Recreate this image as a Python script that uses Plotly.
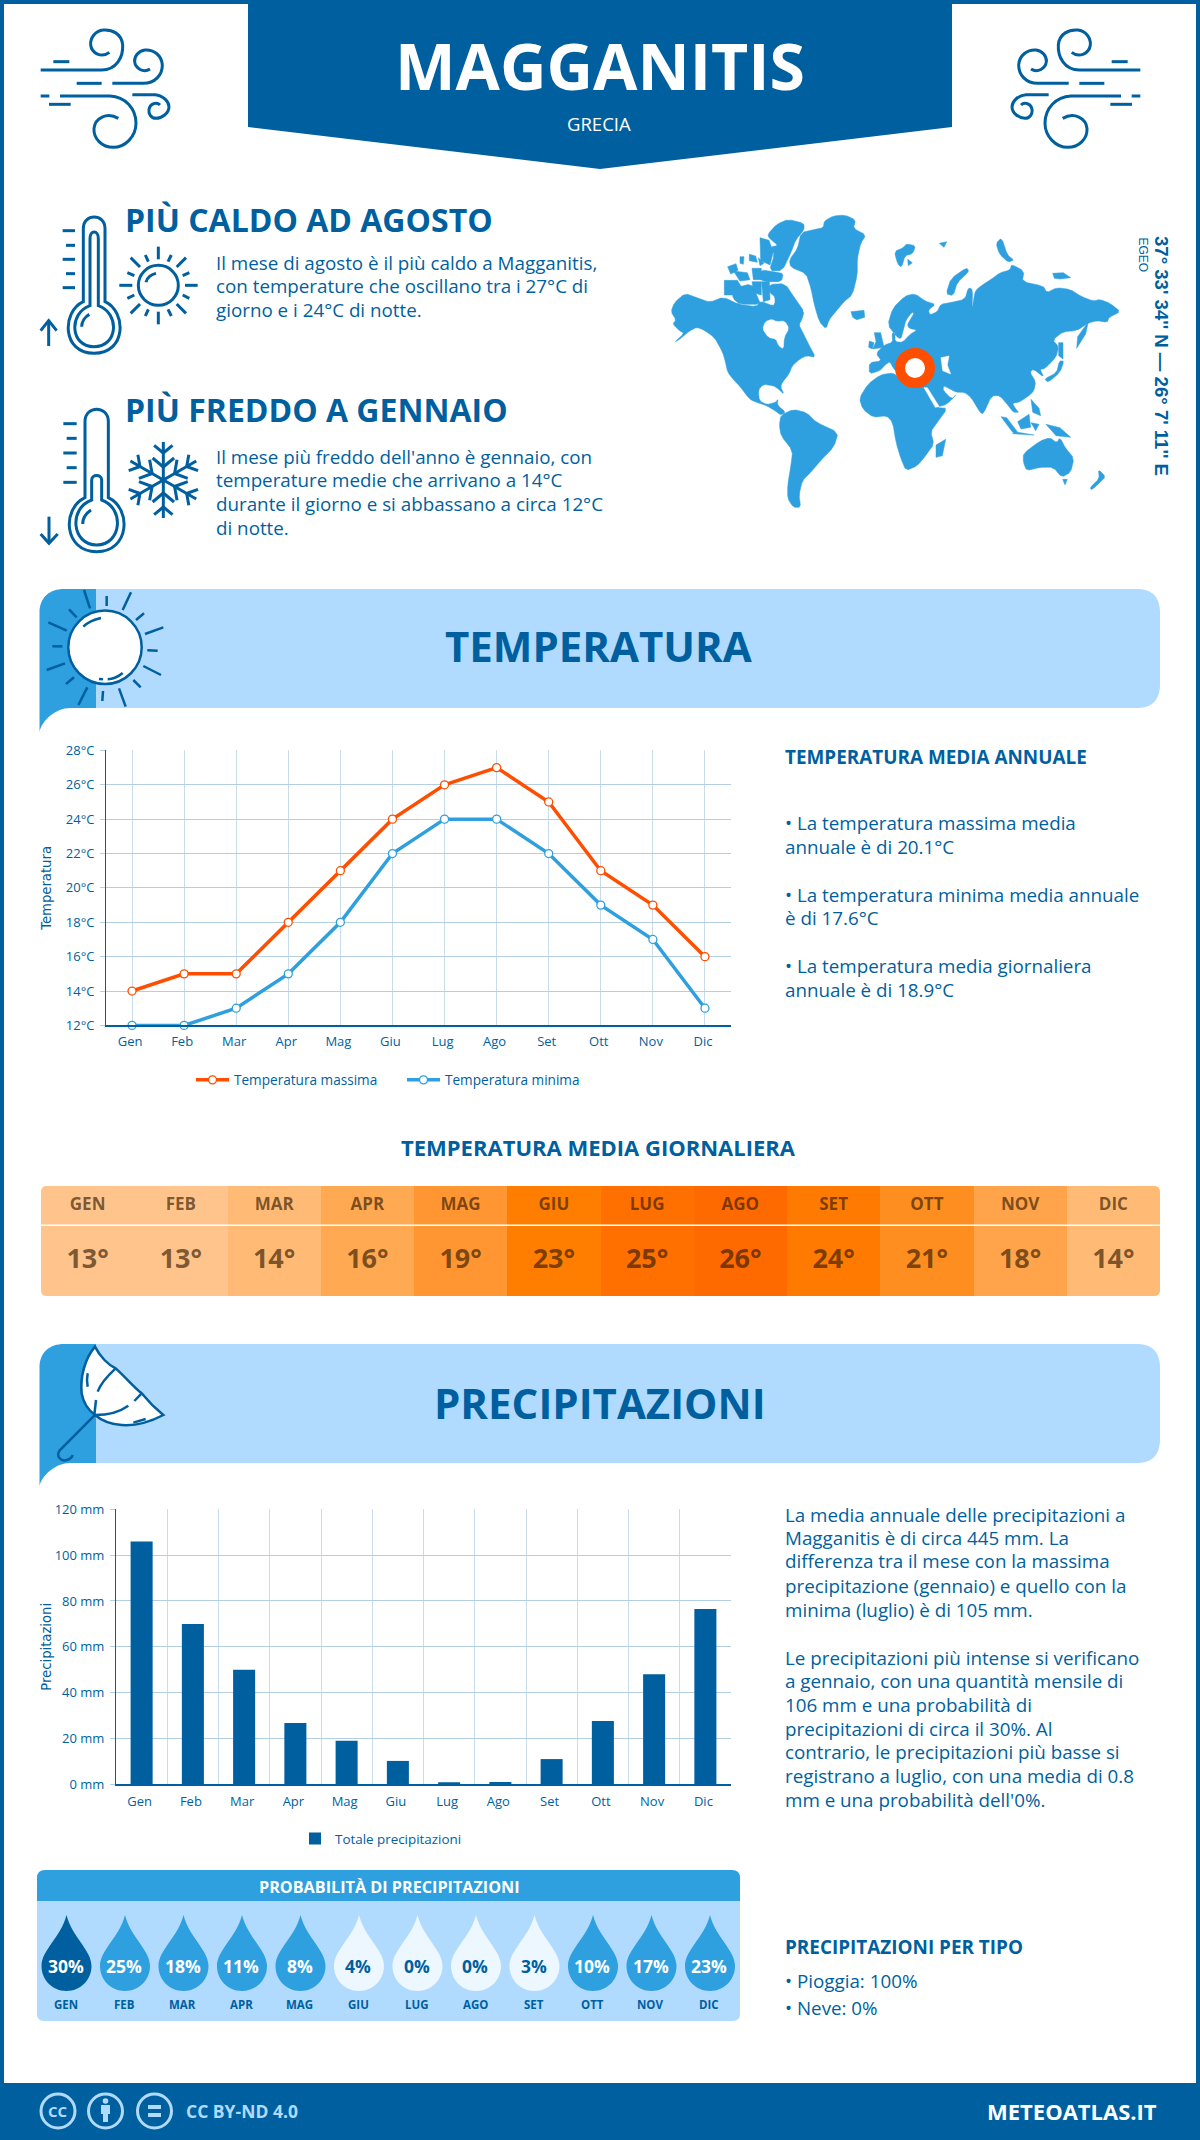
import math
import plotly.graph_objects as go

W, H = 1200, 2140
BLUE = "#005f9e"
MID = "#2e9fdf"
LIGHT = "#b0dbff"
PALE = "#edf7ff"
ORANGE = "#ff4e00"
FONT = "Open Sans"

# ---- data ----
MONTHS = ["Gen", "Feb", "Mar", "Apr", "Mag", "Giu", "Lug", "Ago", "Set", "Ott", "Nov", "Dic"]
MONTHS_UP = ["GEN", "FEB", "MAR", "APR", "MAG", "GIU", "LUG", "AGO", "SET", "OTT", "NOV", "DIC"]
TEMP_MAX = [14, 15, 15, 18, 21, 24, 26, 27, 25, 21, 19, 16]
TEMP_MIN = [12, 12, 13, 15, 18, 22, 24, 24, 22, 19, 17, 13]
TEMP_TICKS = [12, 14, 16, 18, 20, 22, 24, 26, 28]
TEMP_LABELS = ["12°C", "14°C", "16°C", "18°C", "20°C", "22°C", "24°C", "26°C", "28°C"]
TEMP_DAILY = [13, 13, 14, 16, 19, 23, 25, 26, 24, 21, 18, 14]
RAIN = [106, 70, 50, 26.8, 19, 10.2, 0.8, 1, 11, 27.6, 48, 76.5]
RAIN_TICKS = [0, 20, 40, 60, 80, 100, 120]
RAIN_LABELS = ["0 mm", "20 mm", "40 mm", "60 mm", "80 mm", "100 mm", "120 mm"]
RAIN_PROB = [30, 25, 18, 11, 8, 4, 0, 0, 3, 10, 17, 23]

HEAT_STOPS = [(13, "#ffc48b"), (14, "#ffba75"), (16, "#ffa952"), (18, "#ffa44a"), (19, "#ff9632"),
              (21, "#ff8e20"), (23, "#ff7e00"), (24, "#ff7a00"), (25, "#ff7000"), (26, "#ff6a00")]


def fx(x):
    return x / W


def fy(y):
    return 1 - y / H


def path(cmds):
    """cmds: list of (letter, x1, y1, x2, y2...) in page pixels -> paper path string"""
    out = []
    for c in cmds:
        letter = c[0]
        nums = c[1:]
        pts = []
        for i in range(0, len(nums), 2):
            pts.append(f"{fx(nums[i]):.5f},{fy(nums[i + 1]):.5f}")
        out.append(letter + " ".join(pts))
    return " ".join(out)


shapes = []
notes = []


def add_path(cmds, fill=None, line=None, width=0, layer="below"):
    s = dict(type="path", xref="paper", yref="paper", path=path(cmds), layer=layer,
             line=dict(color=line or "rgba(0,0,0,0)", width=width))
    if fill:
        s["fillcolor"] = fill
    shapes.append(s)


def parse(d, tx, ty):
    """parse 'M x,y L x,y C ...' mini paths through a transform"""
    cmds = []
    for tok in d.replace(",", " ").split():
        if tok.isalpha():
            cmds.append([tok])
        else:
            cmds[-1].append(float(tok))
    res = []
    for c in cmds:
        row = [c[0]]
        for i in range(1, len(c), 2):
            row += [tx(c[i]), ty(c[i + 1])]
        res.append(tuple(row))
    return res


def stroke(d, tx, ty, width=3, color=BLUE, fill=None, layer="below"):
    add_path(parse(d, tx, ty), fill=fill, line=color, width=width, layer=layer)


def chaikin(pts):
    out = []
    n = len(pts)
    for i in range(n):
        a, b = pts[i], pts[(i + 1) % n]
        out.append((0.8 * a[0] + 0.2 * b[0], 0.8 * a[1] + 0.2 * b[1]))
        out.append((0.2 * a[0] + 0.8 * b[0], 0.2 * a[1] + 0.8 * b[1]))
    return out


def poly(pts, tx, ty, fill=MID, layer="below"):
    if len(pts) >= 6:
        pts = chaikin(pts)
    cmds = [("M", tx(pts[0][0]), ty(pts[0][1]))]
    cmds += [("L", tx(a), ty(b)) for a, b in pts[1:]]
    cmds.append(("Z",))
    add_path(cmds, fill=fill, line=fill, width=0.5, layer=layer)


def circle(cx, cy, r, fill=None, line=None, width=0, layer="below"):
    shapes.append(dict(type="circle", xref="paper", yref="paper", layer=layer,
                       x0=fx(cx - r), x1=fx(cx + r), y0=fy(cy + r), y1=fy(cy - r),
                       fillcolor=fill or "rgba(0,0,0,0)",
                       line=dict(color=line or "rgba(0,0,0,0)", width=width)))


def text(x, y, s, size, color=BLUE, bold=False, anchor="left", family=FONT, angle=0, ya="middle"):
    notes.append(dict(xref="paper", yref="paper", x=fx(x), y=fy(y), text=s, showarrow=False,
                      xanchor=anchor, yanchor=ya, textangle=angle, borderpad=0,
                      font=dict(family=family, size=size, color=color,
                                weight=700 if bold else 400)))


# ---- frame and header ----
add_path([("M", 0, 0), ("L", 1200, 0), ("L", 1200, 4), ("L", 0, 4), ("Z",)], fill=BLUE)
add_path([("M", 0, 0), ("L", 4, 0), ("L", 4, 2140), ("L", 0, 2140), ("Z",)], fill=BLUE)
add_path([("M", 1196, 0), ("L", 1200, 0), ("L", 1200, 2140), ("L", 1196, 2140), ("Z",)], fill=BLUE)
add_path([("M", 248, 0), ("L", 952, 0), ("L", 952, 127), ("L", 600, 169), ("L", 248, 127), ("Z",)], fill=BLUE)
add_path([("M", 0, 2083), ("L", 1200, 2083), ("L", 1200, 2140), ("L", 0, 2140), ("Z",)], fill=BLUE)
text(600, 65, "MAGGANITIS", 64.3, "white", True, "center")
text(598.5, 123, "GRECIA", 18.5, "white", False, "center")

# ---- wind icons ----
WIND = [
    "M 32,150 L 215,150 C 260,150 280,110 278,75 C 275,40 245,28 220,30 C 195,32 180,55 182,75 C 185,100 215,115 238,97",
    "M 70,125 L 118,125",
    "M 140,190 L 215,190",
    "M 247,190 L 340,190 C 375,190 397,165 397,135 C 395,105 370,88 345,90 C 325,92 312,110 314,125 C 316,145 340,160 360,147",
    "M 32,228 L 58,228",
    "M 90,228 L 240,228 C 285,230 318,265 318,310 C 318,350 285,382 250,382 C 215,382 190,355 192,325 C 195,295 230,275 265,295",
    "M 57,253 L 122,253",
    "M 307,224 L 375,224 C 400,226 417,245 417,260 C 417,280 395,295 378,295 C 362,295 355,280 357,268 C 360,250 380,245 390,255",
]
for d in WIND:
    stroke(d, lambda v: 30 + v / 3, lambda v: 20 + v / 3)
    stroke(d, lambda v: 1181 - (30 + v / 3), lambda v: 20 + v / 3)

# ---- hot thermometer + sun ----
tx1, ty1 = (lambda v: 30 + v / 3), (lambda v: 205 + v / 3)
HOT = [
    "M 160,290 L 160,70 C 160,25 225,25 225,70 L 225,290 C 290,320 290,445 192,445 C 95,445 95,320 160,290 Z",
    "M 180,302 L 180,100 C 180,75 205,75 205,100 L 205,302 C 270,325 265,425 192,425 C 120,425 115,325 180,302 Z",
    "M 155,365 C 155,350 165,335 178,328",
    "M 98,77 L 135,77", "M 108,121 L 135,121", "M 98,163 L 135,163", "M 108,206 L 135,206", "M 98,248 L 135,248",
    "M 56,423 L 56,347", "M 32,377 L 56,347 L 80,377",
    "M 268,241 L 307,241", "M 465,241 L 503,241", "M 385,125 L 385,163", "M 385,320 L 385,358",
    "M 302,158 L 330,186", "M 440,186 L 468,158", "M 302,325 L 330,297", "M 440,297 L 468,325",
    "M 346,150 L 355,170", "M 424,150 L 414,170", "M 292,203 L 313,212", "M 478,203 L 458,212",
    "M 292,280 L 313,270", "M 478,280 L 458,270", "M 346,333 L 355,313", "M 424,333 L 414,313",
    "M 348,232 C 350,218 365,208 378,205",
]
for d in HOT:
    stroke(d, tx1, ty1)
circle(tx1(385), ty1(241), 20, line=BLUE, width=3)

# ---- cold thermometer + snowflake ----
tx2, ty2 = (lambda v: 30 + v / 3), (lambda v: 400 + v / 3)
COLD = [
    "M 165,293 L 165,65 C 165,15 235,15 235,65 L 235,293 C 305,325 300,455 200,455 C 100,455 95,325 165,293 Z",
    "M 185,300 L 185,240 C 185,222 215,222 215,240 L 215,300 C 285,325 275,435 200,435 C 125,435 115,325 185,300 Z",
    "M 158,372 C 158,355 168,340 183,330",
    "M 100,71 L 140,71", "M 110,115 L 140,115", "M 100,159 L 140,159", "M 110,203 L 140,203", "M 100,247 L 140,247",
    "M 57,350 L 57,430", "M 32,402 L 57,430 L 83,402",
]
for d in COLD:
    stroke(d, tx2, ty2)
scx, scy = tx2(400), ty2(240)
for k in range(6):
    a = math.radians(90 + 60 * k)
    ux, uy = math.cos(a), math.sin(a)
    add_path([("M", scx, scy), ("L", scx + 38 * ux, scy + 38 * uy)], line=BLUE, width=3)
    for dist, blen in ((13, 14), (27, 12)):
        px, py = scx + dist * ux, scy + dist * uy
        for sgn in (-1, 1):
            b = a + sgn * math.radians(50)
            add_path([("M", px, py), ("L", px + blen * math.cos(b), py + blen * math.sin(b))], line=BLUE, width=3)

# ---- highlight texts ----
text(124, 219, "PIÙ CALDO AD AGOSTO", 32, BLUE, True)
for yy, s in zip([263, 286, 310], ["Il mese di agosto è il più caldo a Magganitis,",
                                   "con temperature che oscillano tra i 27°C di",
                                   "giorno e i 24°C di notte."]):
    text(214.5, yy, s, 18.8, BLUE)
text(124, 410, "PIÙ FREDDO A GENNAIO", 32, BLUE, True)
for yy, s in zip([457, 480, 504, 528], ["Il mese più freddo dell'anno è gennaio, con",
                                        "temperature medie che arrivano a 14°C",
                                        "durante il giorno e si abbassano a circa 12°C",
                                        "di notte."]):
    text(214.5, yy, s, 18.8, BLUE)

# ---- world map (outline) ----
mx6, my = (lambda v: 660 + v / 3), (lambda v: 205 + v / 3)
mx7 = lambda v: 900 + v / 3
MAP_WEST = [
    [(520,33),(555,30),(587,45),(580,70),(618,90),(602,115),(592,160),(592,210),(577,270),(552,290),(527,320),(507,345),(498,372),(478,350),(463,300),(453,250),(438,205),(392,187),(388,165),(413,130),(423,83),(465,73),(490,68),(493,48)],
    [(33,320),(43,293),(75,265),(110,278),(150,292),(190,276),(235,298),(290,305),(300,288),(340,303),(345,293),(385,298),(432,320),(427,340),(417,360),(427,380),(447,420),(467,457),(440,452),(420,462),(397,482),(387,507),(367,532),(362,545),(372,568),(355,552),(340,542),(310,538),(295,555),(298,587),(320,599),(347,592),(354,582),(352,600),(377,622),(362,630),(345,617),(320,602),(290,592),(268,582),(238,542),(223,527),(203,502),(196,470),(188,442),(163,397),(130,374),(110,367),(90,377),(60,402),(43,412),(73,385),(58,377),(38,357),(48,345)],
    [(323,88),(350,58),(385,43),(432,55),(432,75),(407,105),(392,145),(367,197),(328,197),(343,150),(333,125),(355,122),(328,100)],
    [(328,238),(375,236),(405,280),(434,322),(412,337),(385,322),(345,302),(345,275),(328,262)],
    [(193,226),(232,226),(247,250),(222,270),(193,270)],
    [(220,250),(275,236),(290,270),(302,298),(240,298),(218,280)],
    [(203,185),(228,176),(234,196),(212,207)],
    [(220,198),(262,203),(270,224),(240,228)],
    [(276,190),(304,190),(304,224),(280,224)],
    [(300,98),(327,106),(340,140),(330,180),(302,167)],
    [(302,194),(345,201),(370,206),(364,230),(318,230),(300,224)],
    [(276,230),(304,230),(304,270),(282,264)],
    [(305,230),(328,230),(330,284),(310,290)],
    [(268,148),(287,153),(292,172),(268,167)],
    [(295,158),(312,175),(300,182)],
    [(240,155),(252,155),(250,178),(240,175)],
    [(573,320),(612,316),(614,337),(590,344),(578,337)],
    [(703,140),(730,128),(740,116),(767,123),(757,147),(735,152),(725,187),(713,177)],
    [(838,115),(860,110),(852,127)],
    [(743,163),(757,173),(745,182)],
    [(363,630),(400,613),(440,623),(470,653),(535,682),(522,725),(482,767),(452,802),(427,827),(417,870),(422,907),(400,907),(383,880),(383,840),(393,780),(398,737),(363,692),(358,660)],
    [(598,580),(623,538),(660,510),(700,503),(720,523),(790,543),(832,608),(862,610),(832,652),(812,680),(822,717),(797,752),(772,782),(738,797),(723,762),(708,712),(698,652),(680,632),(640,637),(608,612)],
    [(857,703),(847,752),(828,757),(828,720)],
    [(643,383),(662,383),(672,427),(638,432),(648,410)],
    [(628,408),(642,413),(637,432),(626,427)],
]
MAP_EAST = [
    [(-92,507),(-92,473),(-55,468),(-72,445),(-47,420),(-22,412),(-24,385),(-15,382),(-15,410),(8,412),(30,388),(52,375),(28,370),(22,360),(30,345),(42,325),(36,322),(18,345),(10,375),(3,402),(-10,395),(-37,360),(-22,310),(15,273),(45,266),(75,288),(107,298),(85,315),(90,330),(112,320),(122,298),(150,293),(195,283),(205,248),(218,253),(216,315),(224,265),(230,253),(250,238),(275,222),(300,203),(330,195),(335,178),(372,198),(367,230),(430,243),(440,263),(470,248),(510,253),(545,275),(580,288),(600,283),(630,295),(662,320),(627,337),(622,352),(590,347),(565,354),(530,377),(490,380),(458,405),(476,425),(468,457),(433,492),(420,492),(432,517),(400,492),(390,502),(407,530),(402,557),(387,572),(357,592),(337,594),(347,612),(357,622),(340,622),(325,602),(300,572),(275,572),(250,627),(240,622),(213,577),(193,562),(170,562),(150,552),(130,542),(130,557),(155,582),(170,568),(142,597),(110,607),(85,567),(70,547),(40,535),(0,510),(-20,490),(-30,470),(-45,480),(-60,497)],
    [(138,267),(153,220),(200,188),(207,200),(172,232),(160,272)],
    [(288,115),(305,98),(322,150),(342,165),(325,172),(298,147)],
    [(458,205),(490,203),(512,218),(480,222),(463,220)],
    [(530,430),(533,395),(565,350),(557,387)],
    [(433,522),(470,503),(478,468),(492,468),(480,502),(445,532)],
    [(476,413),(489,413),(489,462),(476,452)],
    [(303,635),(320,638),(352,680),(338,682)],
    [(343,680),(402,690),(338,686)],
    [(353,650),(387,628),(392,667),(363,672)],
    [(393,653),(417,658),(407,677)],
    [(438,658),(480,668),(512,697),(468,692)],
    [(393,583),(417,610),(422,632),(398,622)],
    [(370,745),(420,708),(450,698),(470,713),(480,698),(497,730),(522,760),(512,802),(485,817),(460,787),(420,787),(380,797),(370,772)],
    [(595,793),(617,815),(600,832),(575,855),(570,848),(598,820)],
    [(488,823),(502,823),(495,840)],
]
MAP_WATER_WEST = [
    [(308,372),(316,350),(335,343),(350,350),(374,348),(387,370),(372,397),(370,432),(356,422),(348,402),(325,397)],
]
MAP_WATER_EAST = [
    [(123,458),(147,453),(142,480),(152,507),(128,497)],
    [(72,548),(82,548),(118,605),(106,607)],
]
for p in MAP_WEST:
    poly(p, mx6, my)
for p in MAP_EAST:
    poly(p, mx7, my)
for p in MAP_WATER_WEST:
    poly(p, mx6, my, "white")
for p in MAP_WATER_EAST:
    poly(p, mx7, my, "white")
circle(915, 368, 15, fill="white", line=ORANGE, width=10)
text(1162, 235, "37° 33' 34'' N — 26° 7' 11'' E", 18.6, BLUE, True, "center", "Liberation Sans", 90, "top")
text(1142, 236, "EGEO", 12, BLUE, False, "center", "Liberation Sans", 90, "top")


# ---- banners ----
def banner(y0, y1, tail):
    add_path([("M", 96, y0), ("L", 1137, y0), ("C", 1152, y0, 1160, y0 + 8, 1160, y0 + 24),
              ("L", 1160, y1 - 24), ("C", 1160, y1 - 8, 1152, y1, 1137, y1), ("L", 96, y1), ("Z",)], fill=LIGHT)
    add_path([("M", 39.5, tail), ("L", 39.5, y0 + 24), ("C", 39.5, y0 + 8, 50, y0, 64, y0), ("L", 96, y0),
              ("L", 96, y1), ("L", 70, y1), ("C", 56, y1, 42, y1 + 12, 39.5, tail), ("Z",)], fill=MID)


banner(589, 708, 732)
banner(1344, 1463, 1486)
text(598.5, 645.5, "TEMPERATURA", 42, BLUE, True, "center")
text(599.5, 1402.5, "PRECIPITAZIONI", 42, BLUE, True, "center")

# big sun
tx3, ty3 = (lambda v: 35 + v / 3), (lambda v: 585 + v / 3)
circle(105, 647.3, 36.7, fill="white", line=BLUE, width=2.5)
BIG_SUN = ["M 147,15 L 165,70", "M 215,33 L 215,63", "M 288,22 L 263,75", "M 327,85 L 303,105", "M 385,127 L 330,147",
           "M 368,197 L 337,196", "M 378,270 L 325,243", "M 317,307 L 295,285", "M 272,365 L 252,310",
           "M 202,348 L 204,318", "M 130,360 L 157,307", "M 93,297 L 117,277", "M 35,255 L 90,235",
           "M 52,184 L 82,184", "M 40,112 L 95,137", "M 102,73 L 125,97",
           "M 145,125 C 160,110 180,103 198,99", "M 218,283 C 235,282 250,275 263,264", "M 192,282 L 204,283"]
for d in BIG_SUN:
    stroke(d, tx3, ty3, 2.5)

# umbrella
tx4, ty4 = (lambda v: 35 + v / 3), (lambda v: 1340 + v / 3)
stroke("M 180,20 C 150,55 135,110 140,160 C 145,190 160,210 180,225 C 215,255 290,275 385,225 C 360,205 340,185 320,160 "
       "C 295,140 270,110 242,85 C 220,75 195,50 180,20 Z", tx4, ty4, 2.5, BLUE, "white")
UMBRELLA = ["M 242,85 C 215,110 195,135 188,155", "M 183,180 L 178,225", "M 320,160 L 298,183",
            "M 280,197 C 255,215 220,225 180,225", "M 158,100 C 155,115 155,125 158,140", "M 295,248 L 332,237",
            "M 180,225 L 75,330 C 60,350 80,365 95,360 C 105,357 112,350 113,345"]
for d in UMBRELLA:
    stroke(d, tx4, ty4, 2.5)

# ---- right-hand temperature text ----
text(784, 757, "TEMPERATURA MEDIA ANNUALE", 18.9, BLUE, True)
for yy, s in zip([823, 847, 895, 918, 966, 990],
                 ["• La temperatura massima media", "annuale è di 20.1°C",
                  "• La temperatura minima media annuale", "è di 17.6°C",
                  "• La temperatura media giornaliera", "annuale è di 18.9°C"]):
    text(784, yy, s, 18.8, BLUE)
text(598, 1147, "TEMPERATURA MEDIA GIORNALIERA", 22, BLUE, True, "center")

# ---- heat strip overlays ----
shapes.append(dict(type="line", xref="paper", yref="paper", x0=fx(41), x1=fx(1160), y0=fy(1225.3), y1=fy(1225.3),
                   layer="above", line=dict(color="white", width=1.5)))
for cx, cy, sx, sy in ((41, 1186, 1, 1), (1160, 1186, -1, 1), (41, 1296, 1, -1), (1160, 1296, -1, -1)):
    add_path([("M", cx, cy), ("L", cx + 6 * sx, cy), ("Q", cx, cy, cx, cy + 6 * sy), ("Z",)], fill="white", layer="above")

# ---- precipitation text ----
for yy, s in zip([1515, 1538, 1561, 1586, 1610],
                 ["La media annuale delle precipitazioni a", "Magganitis è di circa 445 mm. La",
                  "differenza tra il mese con la massima", "precipitazione (gennaio) e quello con la",
                  "minima (luglio) è di 105 mm."]):
    text(784, yy, s, 18.8, BLUE)
for yy, s in zip([1658, 1681, 1705, 1729, 1752, 1776, 1800],
                 ["Le precipitazioni più intense si verificano", "a gennaio, con una quantità mensile di",
                  "106 mm e una probabilità di", "precipitazioni di circa il 30%. Al",
                  "contrario, le precipitazioni più basse si", "registrano a luglio, con una media di 0.8",
                  "mm e una probabilità dell'0%."]):
    text(784, yy, s, 18.8, BLUE)

# ---- probability panel ----
add_path([("M", 37, 1901), ("L", 740, 1901), ("L", 740, 2014), ("Q", 740, 2021, 733, 2021), ("L", 44, 2021),
          ("Q", 37, 2021, 37, 2014), ("Z",)], fill=LIGHT)
add_path([("M", 37, 1901), ("L", 37, 1878), ("Q", 37, 1870, 45, 1870), ("L", 732, 1870), ("Q", 740, 1870, 740, 1878),
          ("L", 740, 1901), ("Z",)], fill=MID)
text(389, 1887, "PROBABILITÀ DI PRECIPITAZIONI", 16.2, "white", True, "center")
for i, (p, m) in enumerate(zip(RAIN_PROB, MONTHS_UP)):
    cx = 66.5 + 58.5 * i
    col = BLUE if p >= 30 else (MID if p >= 5 else PALE)
    add_path([("M", cx, 1915), ("C", cx + 6, 1938, cx + 25, 1950, cx + 25, 1966),
              ("C", cx + 25, 1980, cx + 14, 1991, cx, 1991), ("C", cx - 14, 1991, cx - 25, 1980, cx - 25, 1966),
              ("C", cx - 25, 1950, cx - 6, 1938, cx, 1915), ("Z",)], fill=col)
    text(cx - 0.8, 1966, f"{p}%", 17.5, "white" if p >= 5 else BLUE, True, "center")
    text(cx - 1, 2004, m, 11.5, BLUE, True, "center")

text(784, 1947, "PRECIPITAZIONI PER TIPO", 18.9, BLUE, True)
text(784, 1981, "• Pioggia: 100%", 18.8, BLUE)
text(784, 2008, "• Neve: 0%", 18.8, BLUE)

# ---- footer ----
for cx in (58, 105.5, 154.5):
    circle(cx, 2111, 17, line=LIGHT, width=3)
text(58, 2111, "CC", 15, LIGHT, True, "center")
circle(105.5, 2101, 2.8, fill=LIGHT)
add_path([("M", 101, 2105), ("L", 110, 2105), ("L", 110, 2114), ("L", 108, 2114), ("L", 108, 2122), ("L", 103, 2122),
          ("L", 103, 2114), ("L", 101, 2114), ("Z",)], fill=LIGHT)
add_path([("M", 148, 2105), ("L", 161, 2105), ("L", 161, 2109), ("L", 148, 2109), ("Z",)], fill=LIGHT)
add_path([("M", 148, 2113), ("L", 161, 2113), ("L", 161, 2117), ("L", 148, 2117), ("Z",)], fill=LIGHT)
text(185, 2111, "CC BY-ND 4.0", 17.5, LIGHT, True)
text(1157.5, 2111, "METEOATLAS.IT", 22, "white", True, "right")

# ---- charts ----
fig = go.Figure()
for name, vals, col in (("Temperatura massima", TEMP_MAX, ORANGE), ("Temperatura minima", TEMP_MIN, MID)):
    fig.add_trace(go.Scatter(x=MONTHS, y=vals, name=name, mode="lines+markers", xaxis="x", yaxis="y",
                             line=dict(color=col, width=3.5), legend="legend", cliponaxis=False,
                             marker=dict(color="white", size=8, line=dict(color=col, width=1.3))))
fig.add_trace(go.Bar(x=MONTHS, y=RAIN, name="Totale precipitazioni", xaxis="x2", yaxis="y2", width=0.43,
                     marker=dict(color=BLUE, line=dict(width=0)), legend="legend2"))
lo, hi = HEAT_STOPS[0][0], HEAT_STOPS[-1][0]
fig.add_trace(go.Heatmap(z=[TEMP_DAILY], x=MONTHS_UP, y=[0.5], xaxis="x3", yaxis="y3", showscale=False,
                         colorscale=[[(v - lo) / (hi - lo), c] for v, c in HEAT_STOPS], zmin=lo, zmax=hi, hoverinfo="skip"))
TXT = "rgba(50,25,0,0.65)"
fig.add_trace(go.Scatter(x=MONTHS_UP, y=[0.18] * 12, text=MONTHS_UP, mode="text", xaxis="x3", yaxis="y3", showlegend=False,
                         textfont=dict(family=FONT, size=17, color=TXT, weight=700)))
fig.add_trace(go.Scatter(x=MONTHS_UP, y=[0.68] * 12, text=[f"{v}°" for v in TEMP_DAILY], mode="text", xaxis="x3", yaxis="y3",
                         showlegend=False, textfont=dict(family=FONT, size=27, color=TXT, weight=700)))

tickf = dict(family=FONT, size=13, color=BLUE)
GRID_H = "#b3cfe3"
GRID_V = "#c9dcea"
titlef = dict(family="DejaVu Sans", size=13.2, color=BLUE)
fig.update_layout(
    width=W, height=H, autosize=False, margin=dict(l=0, r=0, t=0, b=0, pad=0), template="none",
    paper_bgcolor="white", plot_bgcolor="rgba(0,0,0,0)", shapes=shapes, annotations=notes,
    bargap=0.57,
    xaxis=dict(domain=[fx(106), fx(731)], anchor="y", type="category", range=[-0.5, 11.5], showgrid=True,
               gridcolor=GRID_V, gridwidth=1, showline=True, linecolor=BLUE, linewidth=2, ticks="",
               tickfont=tickf, ticklabelshift=-2, ticklabelstandoff=3, zeroline=False),
    yaxis=dict(domain=[fy(1025.4), fy(750.4)], anchor="x", range=[12, 28], tickvals=TEMP_TICKS, ticktext=TEMP_LABELS,
               showgrid=True, gridcolor=GRID_H, gridwidth=1.3, showline=True, linecolor=BLUE, linewidth=1,
               ticks="outside", ticklen=5, tickcolor=GRID_H, tickfont=tickf, ticklabelstandoff=3, zeroline=False,
               title=dict(text="Temperatura", font=titlef, standoff=11)),
    xaxis2=dict(domain=[fx(116), fx(731)], anchor="y2", type="category", range=[-0.5, 11.5], showgrid=True,
                tickson="boundaries", gridcolor=GRID_V, gridwidth=1, showline=True, linecolor=BLUE, linewidth=2,
                ticks="", tickfont=tickf, ticklabelshift=-2, ticklabelstandoff=4, zeroline=False),
    yaxis2=dict(domain=[fy(1784.3), fy(1509.3)], anchor="x2", range=[0, 120], tickvals=RAIN_TICKS, ticktext=RAIN_LABELS,
                showgrid=True, gridcolor=GRID_H, gridwidth=1.3, showline=True, linecolor=BLUE, linewidth=1,
                ticks="outside", ticklen=5, tickcolor=GRID_H, tickfont=tickf, ticklabelstandoff=3, zeroline=False,
                title=dict(text="Precipitazioni", font=titlef, standoff=0)),
    xaxis3=dict(domain=[fx(41), fx(1160)], anchor="y3", type="category", range=[-0.5, 11.5], visible=False, fixedrange=True),
    yaxis3=dict(domain=[fy(1296), fy(1186)], anchor="x3", range=[1, 0], visible=False, fixedrange=True),
    legend=dict(orientation="h", x=fx(191), xanchor="left", y=fy(1080), yanchor="middle", bgcolor="rgba(0,0,0,0)",
                font=dict(family=FONT, size=13.6, color=BLUE), itemwidth=33, entrywidth=163),
    legend2=dict(orientation="h", x=fx(295), xanchor="left", y=fy(1838.7), yanchor="middle", bgcolor="rgba(0,0,0,0)",
                 font=dict(family=FONT, size=13.4, color=BLUE), itemwidth=30),
    showlegend=True,
)

fig.write_html("out.html", config={"displayModeBar": False},
               post_script="document.body.style.margin='0';document.documentElement.style.overflow='hidden';")
